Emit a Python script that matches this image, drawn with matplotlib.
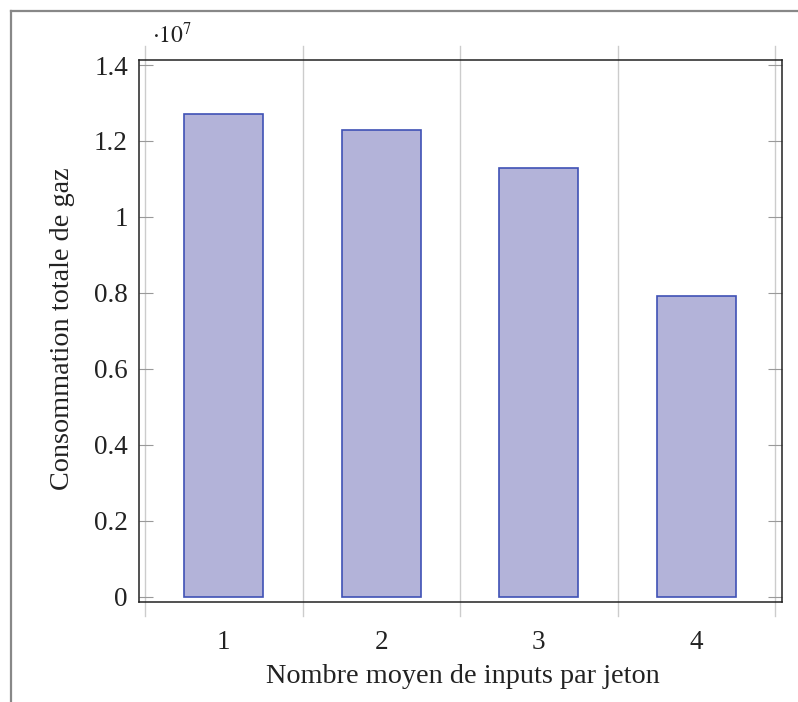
import matplotlib
matplotlib.use("Agg")
import matplotlib.pyplot as plt
from matplotlib.lines import Line2D
from matplotlib.ticker import FuncFormatter, FixedLocator

categories = [1, 2, 3, 4]
gas_totals = [12.72e6, 12.30e6, 11.30e6, 7.92e6]
y_ticks = [0, 0.2e7, 0.4e7, 0.6e7, 0.8e7, 1.0e7, 1.2e7, 1.4e7]
x_boundaries = [0.5, 1.5, 2.5, 3.5, 4.5]

plt.rcParams['font.family'] = ['Liberation Serif', 'DejaVu Serif']
plt.rcParams['mathtext.fontset'] = 'stix'

FS = 19.5
LFS = 20.3
W, H = 798, 702
fig = plt.figure(figsize=(W / 100, H / 100), dpi=100)
left, right, top, bottom = 139, 782, 60, 602
ax = fig.add_axes([left / W, 1 - bottom / H, (right - left) / W, (bottom - top) / H])

ax.bar(categories, gas_totals, width=0.5, color='#B3B3D9', edgecolor='#3F51B5',
       linewidth=1.2, zorder=3)

for xb in x_boundaries:
    ax.axvline(xb, ymin=-0.026, ymax=1.026, color='#cccccc', linewidth=1.0,
               clip_on=False, zorder=1)

ax.set_xlim(0.462, 4.544)
ax.set_ylim(-0.014e7, 1.4132e7)

ax.yaxis.set_major_locator(FixedLocator(y_ticks))
ax.yaxis.set_major_formatter(FuncFormatter(lambda v, p: '%g' % round(v / 1e7, 3)))
ax.set_xticks(categories)
ax.set_xticklabels([str(c) for c in categories])

ax.tick_params(axis='y', direction='in', length=10, width=0.8, color='#999999',
               left=True, right=True, labelsize=FS, pad=8, labelcolor='#222222')
ax.tick_params(axis='x', length=0, labelsize=FS, pad=20, labelcolor='#222222')

for s in ax.spines.values():
    s.set_linewidth(1.1)
    s.set_color('#222222')

ax.set_xlabel('Nombre moyen de inputs par jeton', fontsize=LFS, color='#222222')
ax.set_ylabel('Consommation totale de gaz', fontsize=LFS, color='#222222')
ax.xaxis.label.set_va('baseline')
ax.xaxis.set_label_coords(0.503, -0.1494)
ax.yaxis.set_label_coords(-0.0995, 0.505)

ax.text(0.02, 1.031, r'$\cdot 10^{7}$', transform=ax.transAxes, fontsize=17,
        ha='left', va='baseline', color='#222222')

# outer frame (left and top edges)
fig.add_artist(Line2D([10.5 / W, 10.5 / W], [0, 1 - 10.5 / H], transform=fig.transFigure,
                      color='#888888', linewidth=1.6))
fig.add_artist(Line2D([10.5 / W, 1], [1 - 10.5 / H, 1 - 10.5 / H], transform=fig.transFigure,
                      color='#888888', linewidth=1.6))

fig.savefig('out.png', dpi=100)
